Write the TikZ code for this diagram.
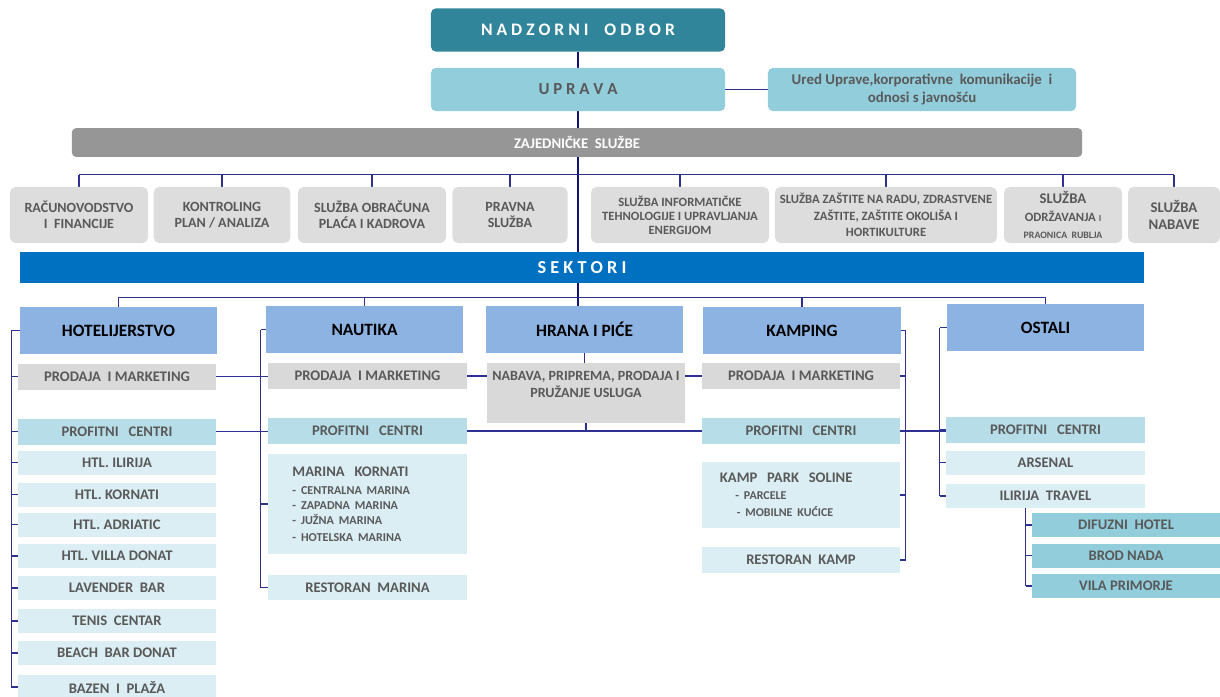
\documentclass[tikz,border=0pt]{standalone}
\usepackage{fontspec}
\setmainfont{Carlito}
\usepackage{tikz}
\usetikzlibrary{positioning,backgrounds}
\definecolor{ocNadzor}{RGB}{ 49,133,155}
\definecolor{ocUprava}{RGB}{146,205,220}
\definecolor{ocZajed} {RGB}{150,150,150}
\definecolor{ocServ}  {RGB}{221,221,221}
\definecolor{ocSektor}{RGB}{  0,112,192}
\definecolor{ocHead}  {RGB}{141,179,226}
\definecolor{ocGray}  {RGB}{217,217,217}
\definecolor{ocPC}    {RGB}{183,222,232}
\definecolor{ocItem}  {RGB}{219,238,243}
\definecolor{ocText}  {RGB}{ 89, 89, 89}
\definecolor{ocLine}  {RGB}{ 46, 49,146}
\definecolor{ocTrunk} {RGB}{ 20, 20,120}

\begin{document}
\begin{tikzpicture}[
  x=0.025cm, y=-0.025cm,
  every node/.style={font=\bfseries, text=ocText, inner sep=1pt},
  ln/.style={draw=ocLine, line width=0.8pt},
  trunk/.style={draw=ocTrunk, line width=1.3pt},
  topbox/.style={rounded corners=3.5pt, minimum height=1.08cm},
  serv/.style={fill=ocServ, rounded corners=4pt, minimum height=1.4cm,
               align=center, font=\bfseries\fontsize{10}{11.5}\selectfont},
  head/.style={fill=ocHead, minimum width=4.93cm, minimum height=1.175cm,
               text=black, font=\bfseries\fontsize{12.3}{14}\selectfont},
  pm/.style={fill=ocGray, minimum width=4.95cm, minimum height=0.65cm,
             font=\bfseries\fontsize{10.4}{12}\selectfont},
  pc/.style={pm, fill=ocPC},
  it/.style={pm, fill=ocItem, minimum height=0.6cm},
  sub/.style={it, fill=ocUprava, minimum width=4.7cm}
]
\useasboundingbox (0,0) rectangle (1220,696);

% top of the chart
\node[topbox, fill=ocNadzor, minimum width=7.35cm, text=white,
      font=\bfseries\fontsize{12.5}{14}\selectfont] (nadzor) at (578,30)
      {N A D Z O R N I\ \ \ \ O D B O R};
\node[topbox, fill=ocUprava, minimum width=7.35cm,
      font=\bfseries\fontsize{12}{14}\selectfont] (uprava) at (578,89.5)
      {U P R A V A};
\node[topbox, fill=ocUprava, minimum width=7.7cm, align=center,
      font=\bfseries\fontsize{10.6}{13}\selectfont] (ured) at (922,89.5)
      {Ured Uprave,korporativne\ \ komunikacije\ \ i\\odnosi s javnošću};
\node[fill=ocZajed, rounded corners=3pt, minimum width=25.25cm,
      minimum height=0.72cm, text=white,
      font=\bfseries\fontsize{10.5}{12}\selectfont] (zajed) at (577,142.5)
      {ZAJEDNIČKE\ \ SLUŽBE};

% zajednicke sluzbe
\node[serv, minimum width=3.45cm]  (racun)   at (79,215)   {RAČUNOVODSTVO\\ I\ \ FINANCIJE};
\node[serv, minimum width=3.42cm]  (kontrol) at (222,215)  {KONTROLING\\PLAN / ANALIZA};
\node[serv, minimum width=3.7cm]   (obracun) at (372,215)  {SLUŽBA OBRAČUNA\\PLAĆA I KADROVA};
\node[serv, minimum width=2.88cm]  (pravna)  at (510,215)  {PRAVNA\\SLUŽBA};
\node[serv, minimum width=4.45cm, font=\bfseries\fontsize{9}{10}\selectfont]
      (inform) at (680,215) {SLUŽBA INFORMATIČKE\\TEHNOLOGIJE I UPRAVLJANJA\\ENERGIJOM};
\node[serv, minimum width=5.55cm, font=\bfseries\fontsize{9}{11.5}\selectfont]
      (zastita) at (886,215) {SLUŽBA ZAŠTITE NA RADU, ZDRASTVENE\\ZAŠTITE, ZAŠTITE OKOLIŠA I\\HORTIKULTURE};
\node[serv, minimum width=2.95cm, font=\bfseries\fontsize{10.5}{12.5}\selectfont]  (odrzav)  at (1063,215)
      {SLUŽBA\\{\fontsize{9}{11}\selectfont ODRŽAVANJA {\fontsize{6.5}{7}\selectfont I}}\\{\fontsize{7}{9}\selectfont PRAONICA\ \ RUBLJA}};
\node[serv, minimum width=2.3cm, font=\bfseries\fontsize{10.5}{12.5}\selectfont]   (nabave)  at (1174,215) {SLUŽBA\\NABAVE};

\node[fill=ocSektor, minimum width=28.1cm, minimum height=0.78cm, text=white,
      font=\bfseries\fontsize{13}{15}\selectfont] (sektori) at (582,267.5)
      {S E K T O R I};

% sektori
\node[head] (hotel)   at (118.5,330.5) {HOTELIJERSTVO};
\node[head] (nautika) at (364.5,329.5) {NAUTIKA};
\node[head] (hrana)   at (584.5,329.5) {HRANA I PIĆE};
\node[head] (kamping) at (802,330.5)   {KAMPING};
\node[head] (ostali)  at (1045.5,327.5){OSTALI};

% hotelijerstvo
\node[pm] (hotPM)    at (117,376.5) {PRODAJA\ \ I MARKETING};
\node[pc] (hotPC)    at (117,431.5) {PROFITNI\ \ \ CENTRI};
\node[it] (ilirija)  at (117,462.5) {HTL. ILIRIJA};
\node[it] (kornati)  at (117,494.5) {HTL. KORNATI};
\node[it] (adriatic) at (117,524.5) {HTL. ADRIATIC};
\node[it] (villa)    at (117,556)   {HTL. VILLA DONAT};
\node[it] (lavender) at (117,588)   {LAVENDER\ \ BAR};
\node[it] (tenis)    at (117,621)   {TENIS\ \ CENTAR};
\node[it] (beach)    at (117,653)   {BEACH\ \ BAR DONAT};
\node[it] (bazen)    at (117,687)   {BAZEN\ \ I\ \ PLAŽA};

% nautika
\node[pm] (nautPM)  at (367.5,376) {PRODAJA\ \ I MARKETING};
\node[pc] (nautPC)  at (367.5,431) {PROFITNI\ \ \ CENTRI};
\node[it, minimum height=2.5cm, align=left, text width=3.75cm, inner xsep=0.6cm]
      (marina) at (367.5,504)
      {MARINA\ \ KORNATI\\[2pt]
       {\fontsize{8.6}{10.7}\selectfont - CENTRALNA MARINA\\- ZAPADNA MARINA\\- JUŽNA MARINA\\- HOTELSKA MARINA}};
\node[it, minimum height=0.63cm] (restMar) at (367.5,587.5) {RESTORAN\ \ MARINA};

% hrana i pice
\node[pm, minimum height=1.5cm, align=center, font=\bfseries\fontsize{10}{12}\selectfont]
      (hranaNab) at (586,393) {NABAVA, PRIPREMA, PRODAJA I\\PRUŽANJE USLUGA\\~};

% kamping
\node[pm] (kampPM)   at (801,376) {PRODAJA\ \ I MARKETING};
\node[pc] (kampPC)   at (801,431) {PROFITNI\ \ \ CENTRI};
\node[it, minimum height=1.65cm, align=left, text width=4.05cm, inner xsep=0.45cm]
      (soline) at (801,495)
      {KAMP\ \ PARK\ \ SOLINE\\
       {\fontsize{8.5}{12.2}\selectfont\hspace{11pt}- PARCELE\\\hspace{12pt}- MOBILNE KUĆICE}};
\node[it, minimum height=0.65cm] (restKamp) at (801,560) {RESTORAN\ \ KAMP};

% ostali
\node[pc] (ostPC)   at (1045.5,430)  {PROFITNI\ \ \ CENTRI};
\node[it] (arsenal) at (1045.5,462.5){ARSENAL};
\node[it] (travel)  at (1045.5,496)  {ILIRIJA\ \ TRAVEL};
\node[sub] (difuzni) at (1126,525)   {DIFUZNI\ \ HOTEL};
\node[sub] (brod)    at (1126,555.5) {BROD NADA};
\node[sub] (vila)    at (1126,586)   {VILA PRIMORJE};

\begin{scope}[on background layer]
% glavna vertikala
\draw[trunk] (nadzor.south) -- (nadzor.south |- hrana.north);
\draw[ln] (uprava.east) -- (ured.west);
% sluzbe
\coordinate (sbus) at ([yshift=8.5pt]racun.north);
\draw[ln] (racun.north |- sbus) -- (nabave.north |- sbus);
\foreach \s in {racun,kontrol,obracun,pravna,inform,zastita,odrzav,nabave}
  \draw[ln] (\s.north) -- (\s.north |- sbus);
% sektori
\coordinate (kbus) at ([yshift=6pt]nautika.north);
\draw[ln] (hotel.north |- kbus) -- (ostali.north |- kbus);
\foreach \s in {hotel,nautika,kamping,ostali}
  \draw[ln] (\s.north) -- (\s.north |- kbus);
% hotelijerstvo
\coordinate (hbr) at ([xshift=-6pt]hotel.west);
\draw[ln] (hbr) -- (hbr |- bazen.west);
\foreach \n in {hotPM,hotPC,ilirija,kornati,adriatic,villa,lavender,tenis,beach,bazen}
  \draw[ln] (\n.west) -- (\n.west -| hbr);
\draw[ln] (hotel.west) -- (hbr);
% nautika
\coordinate (nbr) at ([xshift=-3.5pt]nautika.west);
\draw[ln] (nbr) -- (nbr |- restMar.west);
\draw[ln] (nautika.west) -- (nbr);
\foreach \n in {marina,restMar}
  \draw[ln] (\n.west) -- (\n.west -| nbr);
% prodaja i profitni centri
\draw[ln] (hotPM.east) -- (hotPM.east -| nautPM.west);
\draw[ln] (nautPM.east) -- (nautPM.east -| hranaNab.west);
\draw[ln] (kampPM.west -| hranaNab.east) -- (kampPM.west);
\draw[ln] (hotPC.east) -- (hotPC.east -| nautPC.west);
\draw[ln] (nautPC.east) -- (nautPC.east -| kampPC.west);
\draw[ln] (hranaNab.south) -- (hranaNab.south |- nautPC.east);
\draw[ln] (kampPC.east) -- (kampPC.east -| ostPC.west);
\draw[ln] (hrana.south) -- (hrana.south |- hranaNab.north);
% kamping
\coordinate (kbr) at ([xshift=3.5pt]kamping.east);
\draw[ln] (kbr) -- (kbr |- restKamp.east);
\draw[ln] (kamping.east) -- (kbr);
\foreach \n in {kampPM,kampPC,soline,restKamp}
  \draw[ln] (\n.east) -- (\n.east -| kbr);
% ostali
\coordinate (obr) at ([xshift=-5pt]ostali.west);
\draw[ln] (obr) -- (obr |- travel.west);
\draw[ln] (ostali.west) -- (obr);
\foreach \n in {ostPC,arsenal,travel}
  \draw[ln] (\n.west) -- (\n.west -| obr);
\coordinate (tbr) at ([xshift=-4.3pt]difuzni.west);
\draw[ln] (tbr |- travel.south) -- (tbr |- vila.west);
\foreach \n in {difuzni,brod,vila}
  \draw[ln] (\n.west) -- (\n.west -| tbr);
\end{scope}
\end{tikzpicture}
\end{document}
